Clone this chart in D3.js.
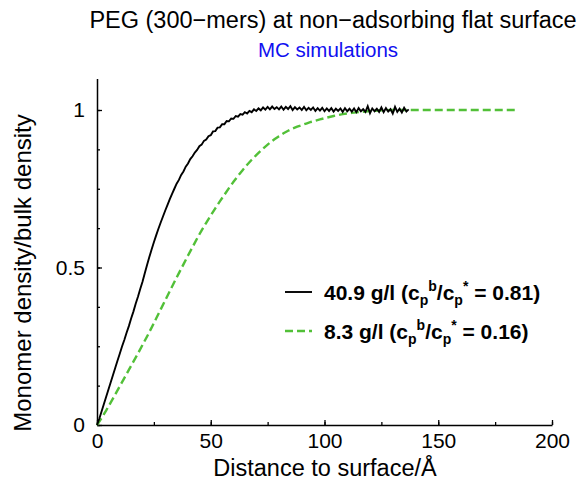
<!DOCTYPE html>
<html>
<head>
<meta charset="utf-8">
<script src="https://cdn.jsdelivr.net/npm/d3@7"></script>
<style>
  body { margin: 0; background: #fff; }
  text { font-family: "Liberation Sans", Arial, sans-serif; }
</style>
</head>
<body>
<div id="chart"></div>
<script>
// data
const title = "PEG (300\u2212mers) at non\u2212adsorbing flat surface";
const subtitle = "MC simulations";
const xTicks = [0, 50, 100, 150, 200];
const yTicks = [0, 0.5, 1];

// 40.9 g/l, sampled every 1 Å from 0 to 137
const denseX = d3.range(0, 138);
const denseY = [
  0, 0.020, 0.043, 0.066, 0.089, 0.112, 0.135, 0.158, 0.181, 0.204,
  0.226, 0.249, 0.270, 0.293, 0.314, 0.338, 0.360, 0.385, 0.407, 0.432,
  0.455, 0.482, 0.508, 0.533, 0.557, 0.580, 0.602, 0.623, 0.643, 0.662,
  0.681, 0.699, 0.717, 0.734, 0.750, 0.766, 0.778, 0.794, 0.805, 0.820,
  0.830, 0.844, 0.853, 0.865, 0.873, 0.885, 0.890, 0.902, 0.906, 0.917,
  0.920, 0.932, 0.933, 0.944, 0.945, 0.955, 0.955, 0.965, 0.964, 0.973,
  0.972, 0.981, 0.979, 0.987, 0.985, 0.993, 0.989, 0.997, 0.993, 1.002,
  0.997, 1.005, 0.999, 1.008, 1.001, 1.010, 1.002, 1.011, 1.003, 1.009,
  1.002, 1.011, 1.001, 1.010, 1.003, 1.012, 1.000, 1.009, 1.002, 1.008,
  1.000, 1.010, 0.999, 1.007, 1.000, 1.008, 0.997, 1.006, 0.998, 1.007,
  0.996, 1.005, 0.997, 1.006, 0.995, 1.004, 0.997, 1.005, 0.994, 1.006,
  0.996, 1.004, 0.995, 1.005, 0.993, 1.006, 0.996, 1.003, 0.994, 1.012,
  0.990, 1.005, 0.996, 1.004, 0.994, 1.008, 0.993, 1.006, 0.995, 1.003,
  0.989, 1.010, 0.994, 1.004, 0.992, 1.007, 0.995, 1.002
];

// 8.3 g/l
const diluteX = [0, 2, 4, 6, 8, 10, 12, 14, 16, 18, 20, 22, 24, 26, 28, 30, 32, 34, 36, 38,
  40, 42, 44, 46, 48, 50, 52, 54, 56, 58, 60, 62, 64, 66, 68, 70, 72, 74, 76, 78,
  80, 82, 84, 86, 88, 90, 92, 94, 96, 98, 100, 104, 108, 112, 116, 120, 125, 130,
  140, 150, 160, 170, 184];
const diluteY = [0, 0.022, 0.046, 0.071, 0.097, 0.123, 0.149, 0.175, 0.201, 0.227,
  0.254, 0.281, 0.309, 0.338, 0.367, 0.396, 0.425, 0.454, 0.482, 0.510,
  0.538, 0.565, 0.592, 0.618, 0.642, 0.665, 0.688, 0.710, 0.731, 0.752,
  0.772, 0.791, 0.809, 0.826, 0.842, 0.857, 0.871, 0.884, 0.896, 0.907,
  0.917, 0.926, 0.934, 0.941, 0.947, 0.952, 0.957, 0.962, 0.966, 0.970,
  0.974, 0.981, 0.987, 0.991, 0.994, 0.997, 0.999, 1.0,
  1.0, 1.0, 1.0, 1.0, 1.0];

const width = 581, height = 482;
const svg = d3.select("#chart").append("svg")
    .attr("width", width)
    .attr("height", height);

const x = d3.scaleLinear().domain([0, 200]).range([97, 552]);
const y = d3.scaleLinear().domain([0, 1.1]).range([425, 78.5]);

// minor ticks first
svg.append("g")
    .attr("transform", "translate(0,425)")
    .call(d3.axisBottom(x).tickValues(d3.range(0, 201, 25)).tickSize(-3).tickFormat(""))
    .call(g => g.select(".domain").remove());
svg.append("g")
    .attr("transform", "translate(97,0)")
    .call(d3.axisLeft(y).tickValues(d3.range(0, 1.01, 0.125)).tickSize(-3).tickFormat(""))
    .call(g => g.select(".domain").remove());

const xAxis = svg.append("g")
    .attr("transform", "translate(0,425)")
    .call(d3.axisBottom(x).tickValues(xTicks).tickSizeInner(-5).tickSizeOuter(0).tickPadding(8));
const yAxis = svg.append("g")
    .attr("transform", "translate(97,0)")
    .call(d3.axisLeft(y).tickValues(yTicks).tickFormat(d => d).tickSizeInner(-5).tickSizeOuter(0).tickPadding(12));

[xAxis, yAxis].forEach(g => {
  g.select(".domain").attr("stroke-width", 1.5);
  g.selectAll(".tick text").attr("font-size", 21).attr("font-family", "Liberation Sans, Arial, sans-serif").attr("fill", "#000");
});
svg.selectAll(".tick line").attr("stroke-width", 1.3);

const line = d3.line().x(d => x(d[0])).y(d => y(d[1]));

svg.append("path")
    .datum(diluteX.map((d, i) => [d, diluteY[i]]))
    .attr("fill", "none")
    .attr("stroke", "#52c038")
    .attr("stroke-width", 2.4)
    .attr("stroke-dasharray", "8,4")
    .attr("d", line);

svg.append("path")
    .datum(denseX.map((d, i) => [d, denseY[i]]))
    .attr("fill", "none")
    .attr("stroke", "#000")
    .attr("stroke-width", 1.9)
    .attr("d", line);

// titles
svg.append("text")
    .attr("x", 333).attr("y", 28)
    .attr("text-anchor", "middle")
    .attr("font-size", 23.5)
    .text(title);
svg.append("text")
    .attr("x", 328).attr("y", 57)
    .attr("text-anchor", "middle")
    .attr("font-size", 20.5)
    .attr("fill", "#1010f0")
    .text(subtitle);

svg.append("text")
    .attr("x", 325).attr("y", 476)
    .attr("text-anchor", "middle")
    .attr("font-size", 23.5)
    .text("Distance to surface/\u00c5");
svg.append("text")
    .attr("transform", "translate(31,273) rotate(-90)")
    .attr("text-anchor", "middle")
    .attr("font-size", 24)
    .text("Monomer density/bulk density");

// legend
const legend = [
  {conc: "40.9 g/l", ratio: "0.81", color: "#000", dash: null, width: 1.9, y: 292},
  {conc: "8.3 g/l", ratio: "0.16", color: "#52c038", dash: "8,4", width: 2.4, y: 331}
];
legend.forEach(d => {
  svg.append("line")
      .attr("x1", 285).attr("x2", 312)
      .attr("y1", d.y).attr("y2", d.y)
      .attr("stroke", d.color)
      .attr("stroke-width", d.width)
      .attr("stroke-dasharray", d.dash);
  const t = svg.append("text")
      .attr("x", 324).attr("y", d.y + 8)
      .attr("font-size", 21)
      .attr("font-weight", "bold");
  t.append("tspan").text(d.conc + " (c");
  t.append("tspan").attr("font-size", 14).attr("dy", 5).text("p");
  t.append("tspan").attr("font-size", 14).attr("dy", -14).text("b");
  t.append("tspan").attr("dy", 9).text("/c");
  t.append("tspan").attr("font-size", 14).attr("dy", 5).text("p");
  t.append("tspan").attr("font-size", 14).attr("dy", -14).text("*");
  t.append("tspan").attr("dy", 9).text(" = " + d.ratio + ")");
});
</script>
</body>
</html>
